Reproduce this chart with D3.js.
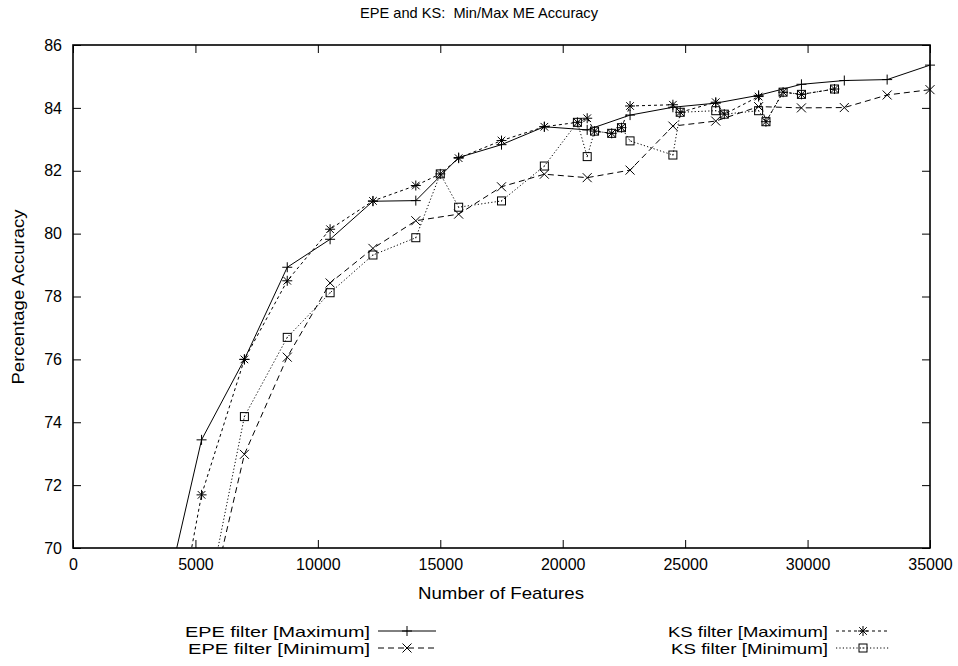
<!DOCTYPE html>
<html><head><meta charset="utf-8">
<script src="https://cdn.jsdelivr.net/npm/d3@7"></script>
<style>
html,body{margin:0;padding:0;background:#fff;}
text{font-family:"Liberation Sans",Arial,Helvetica,sans-serif;fill:#000;}
</style></head>
<body>
<svg id="chart" width="958" height="666"></svg>
<script>
// ---- data ----
const epeX = [3500,5250,7000,8750,10500,12250,14000,15750,17500,19250,21000,22750,24500,26250,28000,29750,31500,33250,35000];
const epeMax = [67.5,73.44,76.0,78.93,79.82,81.03,81.05,82.42,82.83,83.4,83.3,83.77,84.02,84.15,84.4,84.75,84.87,84.9,85.36];
const epeMin = [null,67.1,72.98,76.07,78.43,79.53,80.41,80.62,81.49,81.89,81.78,82.02,83.42,83.58,84.04,84.0,84.01,84.41,84.58];
const ksX = [3500,5250,7000,8750,10500,12250,14000,15000,15750,17500,19250,20600,21000,21300,22000,22400,22750,24500,24800,26250,26600,28000,28300,29000,29750,31100];
const ksMax = [64.4,71.69,76.0,78.5,80.14,81.04,81.53,81.9,82.4,82.96,83.4,83.54,83.67,83.26,83.19,83.37,84.06,84.1,83.86,84.18,83.8,84.36,83.56,84.5,84.43,84.6];
const ksMin = [null,67.4,74.18,76.7,78.12,79.32,79.87,81.9,80.84,81.04,82.15,83.54,82.45,83.26,83.19,83.37,82.95,82.5,83.86,83.91,83.8,83.91,83.56,84.5,84.43,84.6];
const xTicks = [0,5000,10000,15000,20000,25000,30000,35000];
const yTicks = [70,72,74,76,78,80,82,84,86];
const seriesNames = ["EPE filter [Maximum]","EPE filter [Minimum]","KS filter [Maximum]","KS filter [Minimum]"];
const titleText = "EPE and KS:  Min/Max ME Accuracy";
const xLabel = "Number of Features";
const yLabel = "Percentage Accuracy";

// ---- layout ----
const L=73, R=930, T=45, B=548;
const svg = d3.select("#chart");
const x = d3.scaleLinear().domain([0,35000]).range([L,R]);
const y = d3.scaleLinear().domain([70,86]).range([B,T]);

svg.append("defs").append("clipPath").attr("id","clip")
  .append("rect").attr("x",L).attr("y",T).attr("width",R-L).attr("height",B-T);

const tl = 8;
const fmt = d3.format("d");
svg.append("g").attr("transform",`translate(0,${B})`)
  .call(d3.axisBottom(x).tickValues(xTicks).tickFormat(fmt).tickSizeInner(-tl).tickSizeOuter(0).tickPadding(11))
  .call(g=>{g.select(".domain").remove(); g.selectAll("text").style("font-size","16px").attr("fill","#000");});
svg.append("g").attr("transform",`translate(0,${T})`)
  .call(d3.axisTop(x).tickValues(xTicks).tickSizeInner(-tl).tickSizeOuter(0).tickFormat(""))
  .call(g=>g.select(".domain").remove());
svg.append("g").attr("transform",`translate(${L},0)`)
  .call(d3.axisLeft(y).tickValues(yTicks).tickFormat(fmt).tickSizeInner(-tl).tickSizeOuter(0).tickPadding(11))
  .call(g=>{g.select(".domain").remove(); g.selectAll("text").style("font-size","16px").attr("fill","#000");});
svg.append("g").attr("transform",`translate(${R},0)`)
  .call(d3.axisRight(y).tickValues(yTicks).tickSizeInner(-tl).tickSizeOuter(0).tickFormat(""))
  .call(g=>g.select(".domain").remove());
svg.selectAll(".tick line").attr("stroke","#000").attr("stroke-width",1);

svg.append("rect").attr("x",L).attr("y",T).attr("width",R-L).attr("height",B-T)
  .attr("fill","none").attr("stroke","#000").attr("stroke-width",1.6);

function drawMarker(g, type, cx, cy){
  const s=5;
  if(type==="plus"||type==="star"){
    g.append("line").attr("x1",cx-s).attr("x2",cx+s).attr("y1",cy).attr("y2",cy);
    g.append("line").attr("x1",cx).attr("x2",cx).attr("y1",cy-s).attr("y2",cy+s);
  }
  if(type==="cross"||type==="star"){
    const d= type==="star"?3.8:4.5;
    g.append("line").attr("x1",cx-d).attr("x2",cx+d).attr("y1",cy-d).attr("y2",cy+d);
    g.append("line").attr("x1",cx-d).attr("x2",cx+d).attr("y1",cy+d).attr("y2",cy-d);
  }
  if(type==="box"){
    g.append("rect").attr("x",cx-4).attr("y",cy-4).attr("width",8).attr("height",8).attr("fill","none");
    g.append("rect").attr("x",cx-0.5).attr("y",cy-0.5).attr("width",1).attr("height",1).attr("fill","#000").attr("stroke","none");
  }
}

const series = [
  {xs:epeX, ys:epeMax, dash:null, mk:"plus"},
  {xs:epeX, ys:epeMin, dash:"6,4", mk:"cross"},
  {xs:ksX, ys:ksMax, dash:"3,3", mk:"star"},
  {xs:ksX, ys:ksMin, dash:"1.2,2.2", mk:"box"}
];

const line = d3.line().defined(d=>d[1]!=null).x(d=>x(d[0])).y(d=>y(d[1]));
series.forEach(s=>{
  const pts = s.xs.map((v,i)=>[v,s.ys[i]]);
  svg.append("path").attr("clip-path","url(#clip)").attr("d",line(pts))
    .attr("fill","none").attr("stroke","#000").attr("stroke-width",1)
    .attr("stroke-dasharray",s.dash);
  const g = svg.append("g").attr("stroke","#000").attr("stroke-width",1);
  pts.filter(p=>p[1]!=null && p[1]>=70 && p[1]<=86).forEach(p=>drawMarker(g,s.mk,x(p[0]),y(p[1])));
});

function fitText(sel, len){ sel.attr("textLength",len).attr("lengthAdjust","spacingAndGlyphs"); return sel; }

fitText(svg.append("text").attr("x",479).attr("y",18).attr("text-anchor","middle")
  .style("font-size","15px").style("white-space","pre").text(titleText), 238);
fitText(svg.append("text").attr("x",501).attr("y",599).attr("text-anchor","middle").style("font-size","17px").text(xLabel), 166);
fitText(svg.append("text").attr("transform","translate(24,297) rotate(-90)").attr("text-anchor","middle").style("font-size","17px").text(yLabel), 175);

const leg = [
  {tx:370, lx1:378, lx2:436, y:631, w:185},
  {tx:370, lx1:378, lx2:436, y:648, w:182},
  {tx:828, lx1:836, lx2:890, y:631, w:160},
  {tx:828, lx1:836, lx2:890, y:648, w:157}
];
leg.forEach((l,i)=>{
  fitText(svg.append("text").attr("x",l.tx).attr("y",l.y+5.5).attr("text-anchor","end").style("font-size","14.5px").text(seriesNames[i]), l.w);
  svg.append("line").attr("x1",l.lx1).attr("x2",l.lx2).attr("y1",l.y).attr("y2",l.y)
    .attr("stroke","#000").attr("stroke-width",1).attr("stroke-dasharray",series[i].dash);
  const g = svg.append("g").attr("stroke","#000").attr("stroke-width",1);
  drawMarker(g, series[i].mk, (l.lx1+l.lx2)/2, l.y);
});
</script>
</body></html>
